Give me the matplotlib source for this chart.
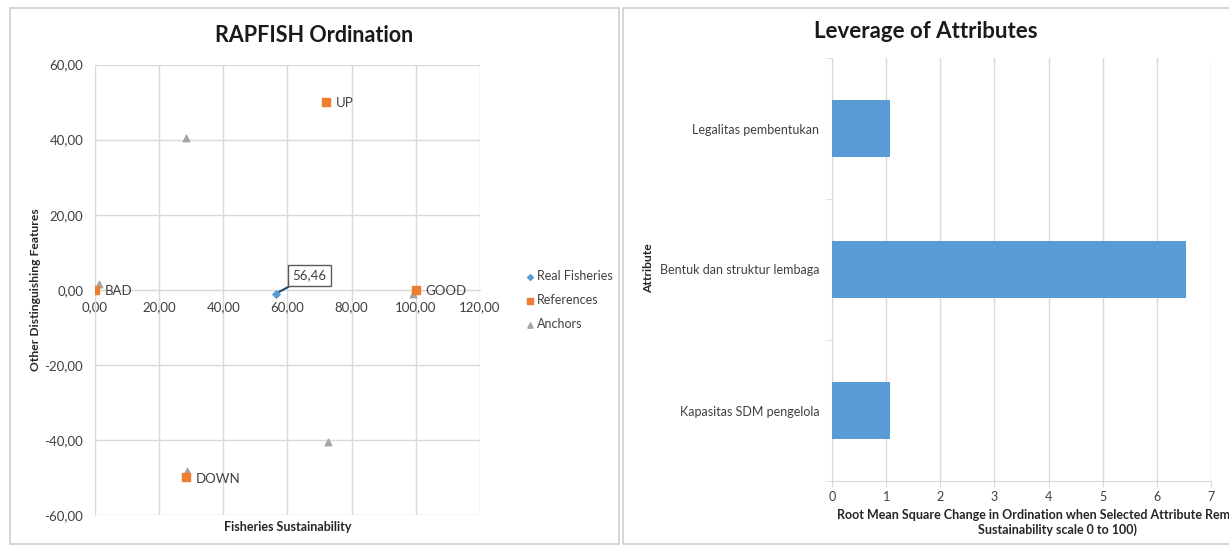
import matplotlib
matplotlib.use("Agg")
import matplotlib.pyplot as plt
from matplotlib.patches import Rectangle
from matplotlib.ticker import FuncFormatter

plt.rcParams['font.family'] = ['Lato', 'DejaVu Sans']

# RAPFISH ordination scores
real_x = [56.46]
real_y = [-1.0]
ref_names = ["BAD", "GOOD", "UP", "DOWN"]
ref_x = [0.0, 100.0, 72.0, 28.4]
ref_y = [0.0, 0.0, 50.0, -50.0]
anchor_x = [1.2, 99.0, 28.3, 72.6, 28.6]
anchor_y = [1.6, -1.0, 40.5, -40.6, -48.4]

# leverage analysis
attributes = ["Kapasitas SDM pengelola", "Bentuk dan struktur lembaga", "Legalitas pembentukan"]
rms_change = [1.07, 6.53, 1.07]

BLUE = "#5B9BD5"
ORANGE = "#ED7D31"
GRAY = "#A5A5A5"
GRID = "#D9D9D9"
TXT = "#404040"

W, H = 1229, 546
fig = plt.figure(figsize=(W / 100, H / 100), dpi=100)


def box(x0, y0, x1, y1):
    # axes position from pixel corners (top-left origin)
    return [x0 / W, 1 - y1 / H, (x1 - x0) / W, (y1 - y0) / H]


def px(x, y):
    return x / W, 1 - y / H


# chart frames
for x0, x1 in [(10, 619), (623, 1240)]:
    fig.patches.append(Rectangle((x0 / W, 1 - 544 / H), (x1 - x0) / W, 536 / H,
                                 transform=fig.transFigure, fill=False,
                                 edgecolor="#D0D0D0", lw=1.2))

comma = FuncFormatter(lambda v, p: f"{v:.2f}".replace(".", ","))

# ---- ordination scatter ----
ax = fig.add_axes(box(95, 64.5, 480, 515))
ax.set_xlim(0, 120)
ax.set_ylim(-60, 60)
ax.set_xticks(range(0, 121, 20))
ax.set_yticks(range(-60, 61, 20))
ax.xaxis.set_major_formatter(comma)
ax.yaxis.set_major_formatter(comma)
ax.grid(True, color=GRID, lw=1)
ax.set_axisbelow(True)
for s in ["top", "right"]:
    ax.spines[s].set_visible(False)
ax.spines["bottom"].set_position(("data", 0))
ax.spines["left"].set_position(("data", 0))
ax.spines["bottom"].set_color(GRID)
ax.spines["left"].set_color(GRID)
ax.tick_params(length=0, labelsize=9.5, labelcolor=TXT)
ax.tick_params(axis="x", pad=8)
ax.tick_params(axis="y", pad=8.5)

ax.scatter(anchor_x, anchor_y, marker="^", s=22, color=GRAY, label="Anchors", zorder=3)
ax.scatter(ref_x, ref_y, marker="s", s=32, color=ORANGE, label="References", zorder=4)
ax.scatter(real_x, real_y, marker="D", s=14, color=BLUE, label="Real Fisheries", zorder=5)

for n, x, y in zip(ref_names, ref_x, ref_y):
    ax.annotate(n, (x, y), xytext=(7, -1), textcoords="offset points",
                va="center", ha="left", fontsize=9.5, color=TXT)

ax.annotate(f"{real_x[0]:.2f}".replace(".", ","), (real_x[0], real_y[0]),
            xytext=(24, 13), textcoords="offset points", fontsize=9.5, color=TXT,
            ha="center", va="center",
            bbox=dict(boxstyle="square,pad=0.35", fc="white", ec="#595959", lw=1),
            arrowprops=dict(arrowstyle="-", color="#1F4E79", lw=1.5,
                            shrinkA=0, shrinkB=0))

fig.text(*px(314, 35), "RAPFISH Ordination", ha="center", va="center",
         fontsize=15.5, fontweight="bold", color="#1A1A1A")
fig.text(*px(288, 527), "Fisheries Sustainability", ha="center", va="center",
         fontsize=9, fontweight="bold", color="#262626")
fig.text(*px(36, 290), "Other Distinguishing Features", ha="center", va="center",
         rotation=90, fontsize=8.7, fontweight="bold", color="#262626")

h, l = ax.get_legend_handles_labels()
order = [2, 1, 0]
fig.legend([h[i] for i in order], [l[i] for i in order], loc="center left",
           bbox_to_anchor=(512 / W, 1 - 300 / H), frameon=False, fontsize=9,
           labelcolor=TXT, handletextpad=0.1, labelspacing=0.95, markerscale=0.8,
           handlelength=1.0)

# ---- leverage bars ----
bx = fig.add_axes(box(832, 58, 1211, 481))
bx.barh(range(len(attributes)), rms_change, height=0.4, color=BLUE, zorder=3)
bx.set_xlim(0, 7)
bx.set_ylim(-0.5, len(attributes) - 0.5)
bx.set_xticks(range(8))
bx.set_yticks(range(len(attributes)))
bx.set_yticklabels(attributes)
bx.set_yticks([-0.5, 0.5, 1.5, 2.5], minor=True)
bx.grid(True, axis="x", color=GRID, lw=1)
for s in ["top", "right"]:
    bx.spines[s].set_visible(False)
bx.spines["left"].set_color(GRID)
bx.spines["bottom"].set_color(GRID)
bx.tick_params(axis="y", which="major", length=0, labelsize=9, labelcolor=TXT, pad=9)
bx.tick_params(axis="y", which="minor", length=4, color=GRID)
bx.tick_params(axis="x", length=4, color=GRID, labelsize=9, labelcolor=TXT, pad=3)
fig.text(*px(926, 31), "Leverage of Attributes", ha="center", va="center",
         fontsize=16, fontweight="bold", color="#1A1A1A")
fig.text(*px(1058, 522),
         "Root Mean Square Change in Ordination when Selected Attribute Removed (on\n"
         "Sustainability scale 0 to 100)",
         ha="center", va="center", fontsize=9, fontweight="bold", color="#262626",
         linespacing=1.2)
fig.text(*px(649, 268), "Attribute", ha="center", va="center", rotation=90,
         fontsize=8.7, fontweight="bold", color="#262626")

fig.savefig("out.png", dpi=100)
